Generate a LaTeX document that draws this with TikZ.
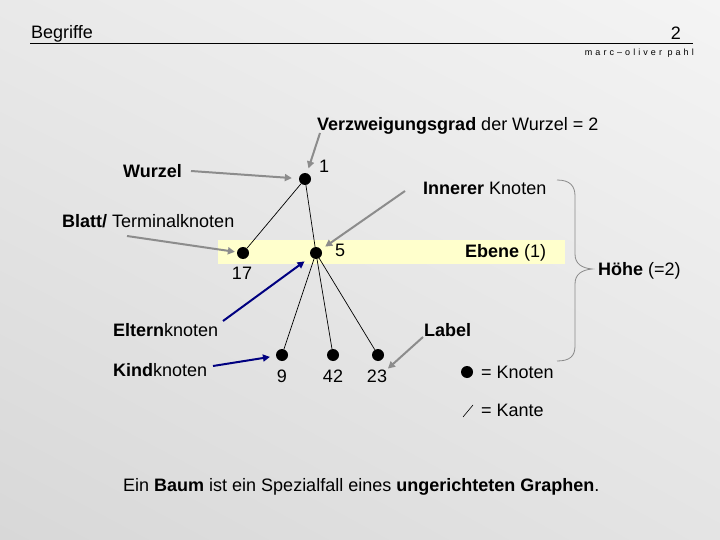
\documentclass[tikz,border=0pt]{standalone}
\usepackage{fontspec}
\setmainfont{Liberation Sans}
\usetikzlibrary{arrows.meta,shadings}
\definecolor{band}{HTML}{FFFFCC}
\definecolor{garr}{HTML}{8C8C8C}
\definecolor{barr}{HTML}{000080}
\definecolor{brc}{HTML}{8A8A8A}
\definecolor{bgul}{HTML}{E9E9E9}
\definecolor{bgur}{HTML}{F4F4F4}
\definecolor{bgll}{HTML}{D8D8D8}
\definecolor{bglr}{HTML}{E4E4E4}
\begin{document}
\begin{tikzpicture}[x=1pt,y=-1pt,
  txt/.style={inner sep=0pt, anchor=base west, font=\fontsize{18}{21}\selectfont},
  dot/.style={circle, fill=black, inner sep=0pt, minimum size=12pt},
  edge/.style={draw=black, line width=0.7pt},
  garrow/.style={draw=garr, line width=2pt, -{Triangle[length=7pt,width=7pt]}},
  barrow/.style={draw=barr, line width=2pt, -{Triangle[length=7pt,width=7pt]}}]
\useasboundingbox (0,0) rectangle (720,540);
\shade[upper left=bgul, upper right=bgur, lower left=bgll, lower right=bglr]
  (0,0) rectangle (720,540);
% header
\node[txt] (title) at (31,39) {Begriffe};
\node[txt, anchor=base east] (pnum) at (681,40) {2};
\draw[line width=0.9pt] (30,43) -- (693,43);
\node[inner sep=0pt, anchor=base east, font=\fontsize{9}{10}\selectfont\addfontfeature{LetterSpace=34}] (author) at (694,56) {marc–oliver pahl};
% level band
\fill[band] (218,240) rectangle (565,264);
% tree nodes
\node[dot] (n1) at (305,179) {};
\node[dot] (n17) at (243,253) {};
\node[dot] (n5) at (316,253) {};
\node[dot] (n9) at (282,355) {};
\node[dot] (n42) at (333,355) {};
\node[dot] (n23) at (378,355) {};
\draw[edge] (n1) -- (n17);
\draw[edge] (n1) -- (n5);
\draw[edge] (n5) -- (n9);
\draw[edge] (n5) -- (n42);
\draw[edge] (n5) -- (n23);
% node labels
\node[txt] (l1) at (319,173) {1};
\node[txt] (l5) at (335,256) {5};
\node[txt, anchor=base] (l17) at (242,279) {17};
\node[txt, anchor=base] (l9) at (282,382) {9};
\node[txt, anchor=base] (l42) at (333,382) {42};
\node[txt, anchor=base] (l23) at (377,382) {23};
% annotations
\node[txt] (verz) at (317,131) {\textbf{Verzweigungsgrad} der Wurzel = 2};
\node[txt] (wurzel) at (123,178) {\textbf{Wurzel}};
\node[txt] (inner) at (423,195) {\textbf{Innerer} Knoten};
\node[txt] (blatt) at (62,228) {\textbf{Blatt/} Terminalknoten};
\node[txt] (ebene) at (465,258) {\textbf{Ebene} (1)};
\node[txt] (hoehe) at (598,275) {\textbf{Höhe} (=2)};
\node[txt] (eltern) at (113,336) {\textbf{Eltern}knoten};
\node[txt] (kind) at (113,376) {\textbf{Kind}knoten};
\node[txt] (label) at (424,336) {\textbf{Label}};
\node[txt] (satz) at (123,491) {Ein \textbf{Baum} ist ein Spezialfall eines \textbf{ungerichteten Graphen}.};
% arrow starts
\coordinate (sVerz) at (320,133);
\coordinate (sWurzel) at (191,171);
\coordinate (sInner) at (405,191);
\coordinate (sBlatt) at (127,236);
\coordinate (sEltern) at (223,321);
\coordinate (sKind) at (213,366);
\coordinate (sLabel) at (423,337);
\draw[garrow, shorten >=5pt] (sVerz) -- (n1);
\draw[garrow, shorten >=7pt] (sWurzel) -- (n1);
\draw[garrow, shorten >=5pt] (sInner) -- (n5);
\draw[garrow, shorten >=2pt] (sBlatt) -- (n17);
\draw[barrow, shorten >=8pt] (sEltern) -- (n5);
\draw[barrow, shorten >=6pt] (sKind) -- (n9);
\draw[garrow, shorten >=1pt] (sLabel) -- (l23.north east);
% brace
\draw[brc, line width=0.8pt] (557,180) .. controls (570,180) and (575,186) .. (575,196)
  -- (575,254) .. controls (575,264) and (582,268) .. (592,269)
  .. controls (582,270) and (575,274) .. (575,284)
  -- (575,346) .. controls (575,356) and (570,361) .. (557,361);
% legend
\node[dot] (legdot) at (467,372) {};
\node[txt] (legk) at (481,378) {= Knoten};
\coordinate (legA) at (463,417);
\coordinate (legB) at (473,405);
\draw[line width=0.6pt] (legA) -- (legB);
\node[txt] (lege) at (481,416) {= Kante};
\end{tikzpicture}
\end{document}
